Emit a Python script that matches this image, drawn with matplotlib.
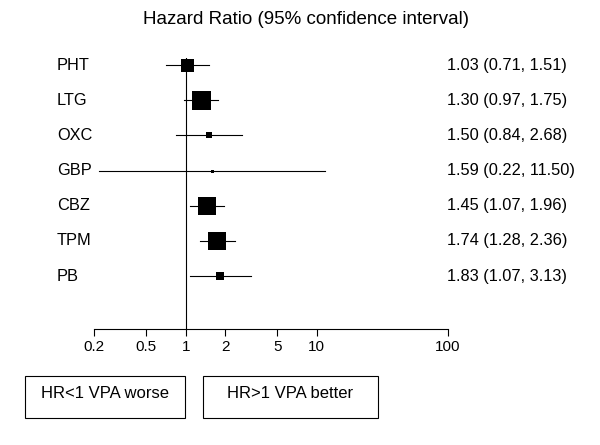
import matplotlib
matplotlib.use("Agg")
import matplotlib.pyplot as plt
from matplotlib.patches import Rectangle
from matplotlib.transforms import blended_transform_factory

plt.rcParams['font.family'] = ['Liberation Sans', 'DejaVu Sans']

drugs = ['PHT', 'LTG', 'OXC', 'GBP', 'CBZ', 'TPM', 'PB']
hr = [1.03, 1.30, 1.50, 1.59, 1.45, 1.74, 1.83]
lower = [0.71, 0.97, 0.84, 0.22, 1.07, 1.28, 1.07]
upper = [1.51, 1.75, 2.68, 11.50, 1.96, 2.36, 3.13]
box_px = [13, 19, 6.5, 3, 18, 18, 7.5]  # box side in pixels (study weight)
ticks = [0.2, 0.5, 1, 2, 5, 10, 100]
tick_labels = ['0.2', '0.5', '1', '2', '5', '10', '100']

W, H = 600, 445
fig = plt.figure(figsize=(6, 4.45), dpi=100)
ax = fig.add_axes([94 / W, 1 - 328.5 / H, (448 - 94) / W, (328.5 - 58) / H])

ax.set_xscale('log')
ax.set_xlim(0.2, 100)
ax.set_ylim(7.49, -0.2)

for i in range(len(drugs)):
    ax.plot([lower[i], upper[i]], [i, i], color='black', lw=0.8)
    ax.plot(hr[i], i, marker='s', color='black', ms=box_px[i] * 0.72, mew=0)

ax.axvline(1, color='black', lw=0.8)

for s in ['top', 'right', 'left']:
    ax.spines[s].set_visible(False)
ax.spines['bottom'].set_linewidth(0.8)
ax.set_yticks([])
ax.set_xticks(ticks)
ax.set_xticklabels(tick_labels, fontsize=11)
ax.minorticks_off()
ax.tick_params(axis='x', direction='out', length=5, width=0.8, pad=3)

trans = blended_transform_factory(fig.transFigure, ax.transData)
for i, d in enumerate(drugs):
    ax.text(57 / W, i, d, transform=trans, fontsize=11.8, va='center', ha='left', clip_on=False)
    ax.text(447 / W, i, '%.2f (%.2f, %.2f)' % (hr[i], lower[i], upper[i]),
            transform=trans, fontsize=11.8, va='center', ha='left', clip_on=False)

fig.text(306 / W, 1 - 20 / H, 'Hazard Ratio (95% confidence interval)', fontsize=13.5,
         ha='center', va='center')

for (x0, x1, label) in [(25, 185, 'HR<1 VPA worse'), (203, 378, 'HR>1 VPA better')]:
    fig.patches.append(Rectangle((x0 / W, 1 - 418 / H), (x1 - x0) / W, 42 / H,
                                 transform=fig.transFigure, fill=False, edgecolor='black', lw=0.8))
    fig.text((x0 + x1) / 2 / W, 1 - 394 / H, label, fontsize=12, ha='center', va='center')

fig.savefig('out.png', dpi=100)
